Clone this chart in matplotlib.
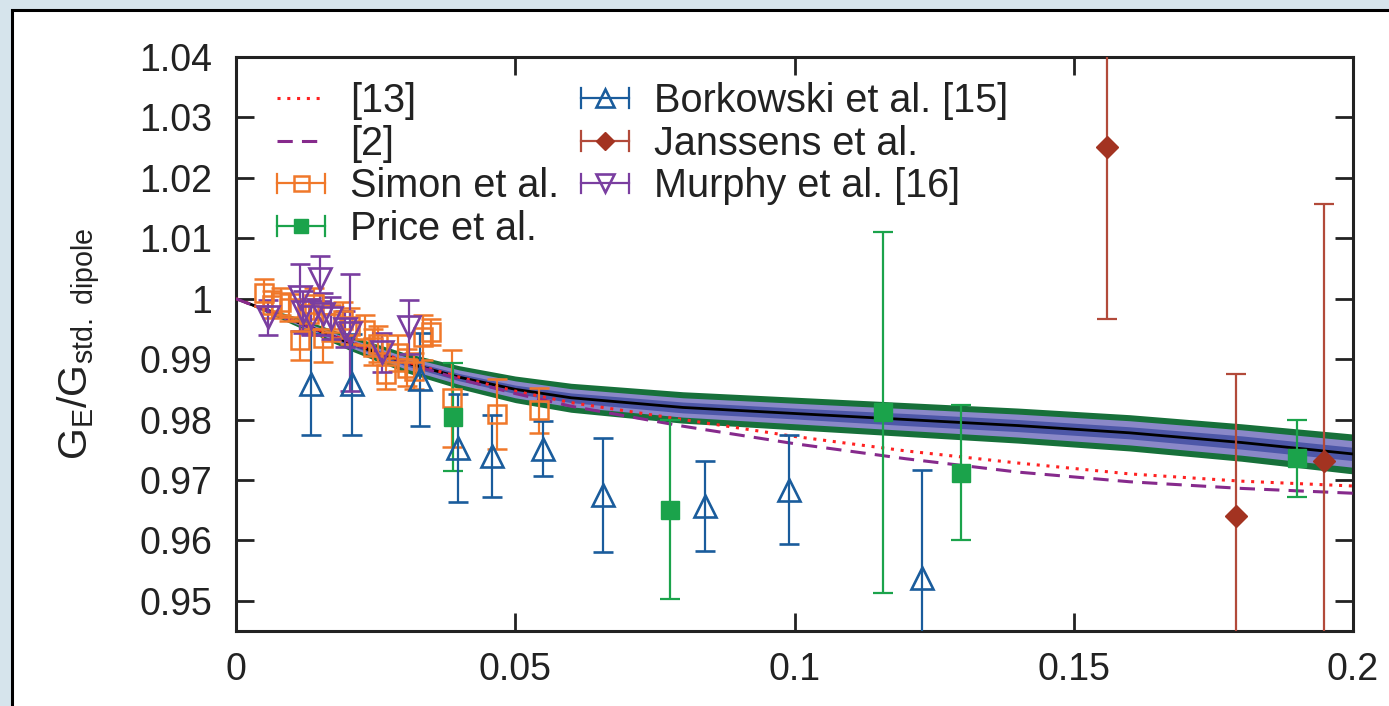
import numpy as np
import matplotlib
matplotlib.use('Agg')
import matplotlib.pyplot as plt
from matplotlib.patches import Rectangle
from matplotlib.lines import Line2D
from matplotlib.legend_handler import HandlerBase
from matplotlib.container import ErrorbarContainer

plt.rcParams['font.family'] = ['Liberation Sans', 'DejaVu Sans']
plt.rcParams['mathtext.fontset'] = 'custom'
plt.rcParams['mathtext.rm'] = 'Liberation Sans'
plt.rcParams['mathtext.it'] = 'Liberation Sans:italic'

# theory curves
q2 = [0.0, 0.01, 0.02, 0.03, 0.04, 0.05, 0.06, 0.08, 0.10, 0.12, 0.14, 0.16, 0.18, 0.20]
fit_center = [1.0, 0.9965, 0.9928, 0.9895, 0.9870, 0.9850, 0.9836, 0.9820, 0.9810, 0.9800, 0.9790, 0.9778, 0.9762, 0.9743]
band_outer = [0.0, 0.0007, 0.0012, 0.0016, 0.0019, 0.0022, 0.0024, 0.0026, 0.0027, 0.0028, 0.0029, 0.0030, 0.0031, 0.0033]
band_mid = [0.0, 0.0004, 0.0007, 0.0010, 0.0012, 0.0014, 0.0015, 0.0016, 0.0017, 0.0018, 0.0019, 0.0020, 0.0021, 0.0022]
band_inner = [0.0, 0.0002, 0.0004, 0.0005, 0.0006, 0.0007, 0.0008, 0.0009, 0.0009, 0.0010, 0.0010, 0.0010, 0.0011, 0.0011]
ref13 = [1.0, 0.9965, 0.9930, 0.9897, 0.9870, 0.9847, 0.9828, 0.9800, 0.9772, 0.9748, 0.9728, 0.9710, 0.9698, 0.9690]
ref2 = [1.0, 0.9964, 0.9928, 0.9895, 0.9867, 0.9843, 0.9822, 0.9789, 0.9760, 0.9735, 0.9713, 0.9697, 0.9686, 0.9678]

# data sets
simon_x = [0.0050, 0.0065, 0.0080, 0.0095, 0.0115, 0.0130, 0.0140, 0.0155, 0.0170, 0.0192, 0.0205,
           0.0231, 0.0245, 0.0255, 0.0268, 0.0290, 0.0306, 0.0318, 0.0335, 0.0350, 0.0387, 0.0467, 0.0543]
simon_y = [1.0010, 0.9990, 0.9995, 0.9985, 0.9932, 0.9975, 0.9992, 0.9935, 0.9960, 0.9965, 0.9955,
           0.9948, 0.9920, 0.9925, 0.9876, 0.9910, 0.9886, 0.9880, 0.9936, 0.9945, 0.9835, 0.9809, 0.9815]
simon_err = [0.0022, 0.0022, 0.0022, 0.0022, 0.0033, 0.0025, 0.0025, 0.0040, 0.0030, 0.0030, 0.0030,
             0.0025, 0.0030, 0.0030, 0.0026, 0.0030, 0.0030, 0.0030, 0.0037, 0.0022, 0.0080, 0.0058, 0.0038]

price_x = [0.0388, 0.0777, 0.1159, 0.1298, 0.1899]
price_y = [0.9804, 0.9651, 0.9812, 0.9712, 0.9736]
price_err = [0.0089, 0.0148, 0.0299, 0.0112, 0.0064]

bork_x = [0.0135, 0.0207, 0.0329, 0.0398, 0.0458, 0.0549, 0.0658, 0.0840, 0.0990, 0.1229]
bork_y = [0.9858, 0.9858, 0.9867, 0.9753, 0.9739, 0.9752, 0.9675, 0.9657, 0.9684, 0.9538]
bork_err = [0.0084, 0.0084, 0.0077, 0.0090, 0.0068, 0.0046, 0.0095, 0.0075, 0.0090, 0.0179]

jans_x = [0.1559, 0.1790, 0.1948]
jans_y = [1.0251, 0.9640, 0.9732]
jans_err = [0.0284, 0.0236, 0.0424]

murphy_x = [0.0058, 0.0115, 0.0120, 0.0135, 0.0150, 0.0155, 0.0170, 0.0195, 0.0204, 0.0262, 0.0309]
murphy_y = [0.9969, 1.0002, 0.9978, 0.9970, 1.0033, 0.9975, 0.9968, 0.9950, 0.9944, 0.9911, 0.9953]
murphy_err = [0.0029, 0.0055, 0.0035, 0.0030, 0.0037, 0.0035, 0.0035, 0.0030, 0.0097, 0.0032, 0.0044]

xticks = [0, 0.05, 0.1, 0.15, 0.2]
xticklabels = ['0', '0.05', '0.1', '0.15', '0.2']
yticks = [0.95, 0.96, 0.97, 0.98, 0.99, 1.0, 1.01, 1.02, 1.03, 1.04]
yticklabels = ['0.95', '0.96', '0.97', '0.98', '0.99', '1', '1.01', '1.02', '1.03', '1.04']


class HBarHandler(HandlerBase):
    # gnuplot style key: horizontal bar with end caps and the point in the middle
    def create_artists(self, legend, orig_handle, xdescent, ydescent, width, height, fontsize, trans):
        ln = orig_handle[0]
        col = ln.get_color()
        x0 = -xdescent
        x1 = x0 + width
        yc = -ydescent + height / 2
        h = height * 0.36
        arts = [Line2D([x0, x1], [yc, yc], color=col, lw=1.6),
                Line2D([x0, x0], [yc - h, yc + h], color=col, lw=1.6),
                Line2D([x1, x1], [yc - h, yc + h], color=col, lw=1.6),
                Line2D([(x0 + x1) / 2], [yc], marker=ln.get_marker(), ms=ln.get_markersize() * 0.8,
                       mfc=ln.get_markerfacecolor(), mec=ln.get_markeredgecolor(),
                       mew=ln.get_markeredgewidth(), ls='none')]
        for a in arts:
            a.set_transform(trans)
        return arts


fig = plt.figure(figsize=(13.89, 7.06), dpi=100)
fig.patch.set_facecolor('#d6e4ec')
fig.add_artist(Rectangle((12 / 1389, -0.05), 1.2, (706 - 10) / 706 + 0.05, transform=fig.transFigure,
                         facecolor='white', edgecolor='black', lw=2.2, zorder=0))

ax = fig.add_axes([236 / 1389, 1 - 631 / 706, (1353 - 236) / 1389, (631 - 57) / 706])
ax.set_facecolor('white')

c = np.array(fit_center)
ax.fill_between(q2, c - np.array(band_outer), c + np.array(band_outer), color='#17703a', lw=0, zorder=2)
ax.fill_between(q2, c - np.array(band_mid), c + np.array(band_mid), color='#8a88c8', lw=0, zorder=2)
ax.fill_between(q2, c - np.array(band_inner), c + np.array(band_inner), color='#4d57a8', lw=0, zorder=2)
ax.plot(q2, fit_center, color='black', lw=2, zorder=3)

ax.plot(q2, ref13, ls=(0, (1, 2.2)), color='#ff2222', lw=2.2, zorder=4, label='[13]')
ax.plot(q2, ref2, ls=(0, (5, 3)), color='#862a8c', lw=2.2, zorder=4, label='[2]')

eb = dict(capsize=7, elinewidth=1.6, capthick=1.6, ls='none', zorder=5)
ax.errorbar(simon_x, simon_y, yerr=simon_err, marker='s', ms=13.5, mfc='none', mec='#f0782a', mew=1.8,
            color='#f0782a', label='Simon et al.', **eb)
ax.errorbar(price_x, price_y, yerr=price_err, marker='s', ms=13, mfc='#1ba34b', mec='#1ba34b',
            color='#1ba34b', label='Price et al.', **eb)
ax.errorbar(bork_x, bork_y, yerr=bork_err, marker='^', ms=15.5, mfc='none', mec='#1a5c9c', mew=1.9,
            color='#1a5c9c', label='Borkowski et al. [15]', **eb)
ax.errorbar(jans_x, jans_y, yerr=jans_err, marker='D', ms=11, mfc='#a33321', mec='#a33321',
            color='#b24a3a', label='Janssens et al.', **eb)
ax.errorbar(murphy_x, murphy_y, yerr=murphy_err, marker='v', ms=15.5, mfc='none', mec='#7a3ea0', mew=1.9,
            color='#7a3ea0', label='Murphy et al. [16]', **eb)

ax.set_xlim(0, 0.2)
ax.set_ylim(0.945, 1.04)
ax.set_xticks(xticks)
ax.set_xticklabels(xticklabels)
ax.set_yticks(yticks)
ax.set_yticklabels(yticklabels)
ax.tick_params(direction='in', length=13, width=2, labelsize=27, top=True, right=True, pad=17,
               colors='#222222')
ax.tick_params(axis='x', pad=15)
for s in ax.spines.values():
    s.set_linewidth(2.2)
    s.set_color('#222222')

ax.set_ylabel(r'$\mathregular{G_E/G_{std.\ dipole}}$', fontsize=29.5, labelpad=26, color='#222222')

leg = ax.legend(ncol=2, loc='upper left', bbox_to_anchor=(0.012, 1.005), frameon=False, fontsize=28.5,
                handlelength=1.2, handletextpad=0.65, labelspacing=0.12, columnspacing=0.55,
                borderaxespad=0.3, handler_map={ErrorbarContainer: HBarHandler()})
for t in leg.get_texts():
    t.set_color('#222222')

fig.savefig('out.png', dpi=100, facecolor=fig.get_facecolor())
